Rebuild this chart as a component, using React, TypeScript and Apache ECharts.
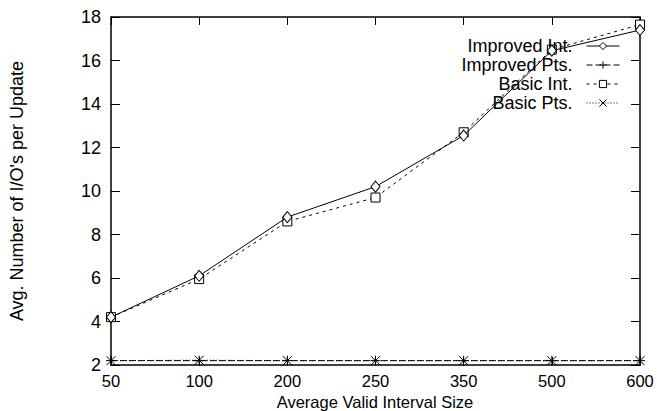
import React, { useEffect, useRef } from "react";
import * as echarts from "echarts";

const categories = ["50", "100", "200", "250", "350", "500", "600"];
const improvedInt = [4.2, 6.1, 8.8, 10.2, 12.55, 16.45, 17.4];
const improvedPts = [2.2, 2.2, 2.2, 2.2, 2.2, 2.2, 2.2];
const basicInt = [4.2, 5.95, 8.6, 9.7, 12.7, 16.5, 17.65];
const basicPts = [2.2, 2.22, 2.2, 2.2, 2.2, 2.2, 2.2];
const seriesNames = ["Improved Int.", "Improved Pts.", "Basic Int.", "Basic Pts."];
const xTitle = "Average Valid Interval Size";
const yTitle = "Avg. Number of I/O's per Update";

const FONT = "'Liberation Sans', Arial, Helvetica, sans-serif";
const PLUS = "path://M5,0L5,10M0,5L10,5";
const CROSS = "path://M0,0L10,10M10,0L0,10";

export default function App() {
  const ref = useRef<HTMLDivElement>(null);
  useEffect(() => {
    if (!ref.current) return;
    const chart = echarts.init(ref.current, undefined, { renderer: "svg" });
    const hollow = { color: "#fff", borderColor: "#000", borderWidth: 1 };
    const stroked = { color: "#000", borderColor: "#000", borderWidth: 1 };
    chart.setOption({
      animation: false,
      backgroundColor: "#fff",
      textStyle: { fontFamily: FONT, color: "#000" },
      grid: { left: 111, right: 17, top: 17, bottom: 46, outerBoundsMode: "none", containLabel: false },
      legend: {
        orient: "vertical",
        right: 37,
        top: 37,
        padding: 0,
        align: "right",
        itemWidth: 33,
        itemHeight: 9,
        itemGap: 1,
        data: seriesNames,
        lineStyle: { width: 1 },
        itemStyle: { borderWidth: 1 },
        textStyle: { fontSize: 18, color: "#000", fontFamily: FONT, lineHeight: 18, padding: [0, 9, 0, 0] },
      },
      graphic: [
        {
          type: "text",
          x: 17,
          y: 191,
          rotation: Math.PI / 2,
          style: {
            text: yTitle,
            fontSize: 18,
            fontFamily: FONT,
            fill: "#000",
            align: "center",
            verticalAlign: "middle",
          },
        },
        {
          type: "text",
          x: 375,
          y: 401.5,
          style: {
            text: xTitle,
            fontSize: 16.5,
            lineHeight: 16,
            fontFamily: FONT,
            fill: "#000",
            align: "center",
            verticalAlign: "middle",
          },
        },
      ],
      xAxis: [
        {
          type: "category",
          data: categories,
          boundaryGap: false,
          axisLine: { lineStyle: { color: "#000", width: 1.5 } },
          axisTick: { inside: true, length: 8, lineStyle: { color: "#000" } },
          axisLabel: { fontSize: 16.5, lineHeight: 16, color: "#000", margin: 8, fontFamily: FONT },
          splitLine: { show: false },
        },
        {
          type: "category",
          data: categories,
          boundaryGap: false,
          position: "top",
          axisLine: { lineStyle: { color: "#000", width: 1.5 } },
          axisTick: { inside: true, length: 8, lineStyle: { color: "#000" } },
          axisLabel: { show: false },
          splitLine: { show: false },
        },
      ],
      yAxis: [
        {
          type: "value",
          min: 2,
          max: 18,
          interval: 2,
          axisLine: { show: true, lineStyle: { color: "#000", width: 1.5 } },
          axisTick: { show: true, inside: true, length: 9, lineStyle: { color: "#000" } },
          axisLabel: { fontSize: 18, color: "#000", margin: 10, fontFamily: FONT },
          splitLine: { show: false },
        },
        {
          type: "value",
          min: 2,
          max: 18,
          interval: 2,
          position: "right",
          axisLine: { show: true, lineStyle: { color: "#000", width: 1.5 } },
          axisTick: { show: true, inside: true, length: 9, lineStyle: { color: "#000" } },
          axisLabel: { show: false },
          splitLine: { show: false },
        },
      ],
      series: [
        {
          name: seriesNames[0],
          type: "line",
          data: improvedInt,
          symbol: "diamond",
          symbolSize: [9, 11],
          itemStyle: hollow,
          lineStyle: { color: "#000", width: 1, type: "solid" },
          z: 4,
        },
        {
          name: seriesNames[1],
          type: "line",
          data: improvedPts,
          symbol: PLUS,
          symbolSize: 10,
          itemStyle: stroked,
          lineStyle: { color: "#000", width: 1, type: [6, 3] },
        },
        {
          name: seriesNames[2],
          type: "line",
          data: basicInt,
          symbol: "rect",
          symbolSize: 9,
          itemStyle: hollow,
          lineStyle: { color: "#000", width: 1, type: [3, 4] },
          z: 3,
        },
        {
          name: seriesNames[3],
          type: "line",
          data: basicPts,
          symbol: CROSS,
          symbolSize: 9,
          itemStyle: stroked,
          lineStyle: { color: "#000", width: 1, type: [1, 2] },
        },
      ],
    });
    return () => chart.dispose();
  }, []);
  return (
    <div
      ref={ref}
      style={{ position: "fixed", left: 0, top: 0, width: 657, height: 411, background: "#fff" }}
    />
  );
}
